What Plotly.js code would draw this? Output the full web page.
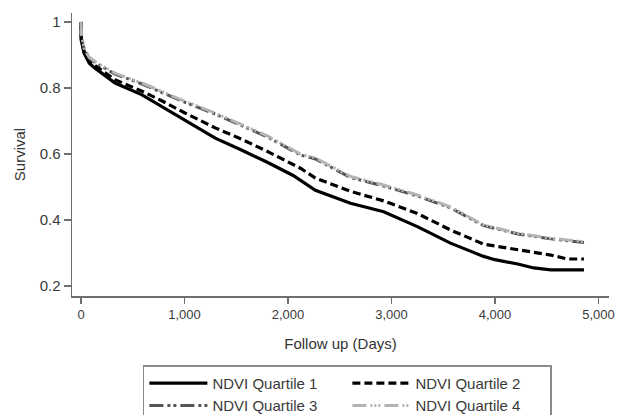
<!DOCTYPE html>
<html>
<head>
<meta charset="utf-8">
<script src="https://cdn.plot.ly/plotly-3.0.1.min.js"></script>
<style>html,body{margin:0;padding:0;background:#fff;}#chart{width:619px;height:415px;}</style>
</head>
<body>
<div id="chart"></div>
<script>
// Follow-up days and survival estimates
const q1Days = [0, 2, 30, 80, 136, 329, 590, 775, 1000, 1297, 1550, 1800, 2050, 2265, 2604, 2925, 3250, 3570, 3890, 4000, 4220, 4375, 4540, 4860];
const q1Surv = [1.0, 0.945, 0.905, 0.875, 0.86, 0.815, 0.779, 0.745, 0.705, 0.648, 0.612, 0.575, 0.535, 0.49, 0.451, 0.425, 0.38, 0.33, 0.29, 0.28, 0.267, 0.255, 0.249, 0.249];

const q2Days = [0, 2, 30, 80, 136, 329, 590, 775, 1000, 1297, 1550, 1800, 2120, 2265, 2604, 2925, 3250, 3570, 3890, 4220, 4540, 4700, 4860];
const q2Surv = [1.0, 0.95, 0.91, 0.882, 0.868, 0.825, 0.79, 0.762, 0.725, 0.679, 0.645, 0.608, 0.557, 0.527, 0.487, 0.458, 0.42, 0.37, 0.327, 0.309, 0.294, 0.282, 0.282];

const q3Days = [0, 5, 30, 80, 136, 329, 590, 775, 1000, 1297, 1550, 1800, 2120, 2265, 2604, 2925, 3250, 3570, 3890, 4220, 4540, 4860];
const q3Surv = [1.0, 0.958, 0.918, 0.89, 0.877, 0.842, 0.812, 0.787, 0.757, 0.721, 0.687, 0.652, 0.597, 0.585, 0.529, 0.503, 0.473, 0.437, 0.383, 0.358, 0.343, 0.332];

const q4Days = [0, 5, 30, 80, 136, 329, 590, 775, 1000, 1297, 1550, 1800, 2120, 2265, 2604, 2925, 3250, 3570, 3890, 4220, 4540, 4860];
const q4Surv = [1.0, 0.96, 0.92, 0.893, 0.88, 0.845, 0.815, 0.79, 0.76, 0.724, 0.69, 0.655, 0.60, 0.588, 0.532, 0.506, 0.476, 0.44, 0.385, 0.36, 0.345, 0.334];

const seriesNames = ['NDVI Quartile 1', 'NDVI Quartile 2', 'NDVI Quartile 3', 'NDVI Quartile 4'];
const xTickVals = [0, 1000, 2000, 3000, 4000, 5000];
const yTickVals = [0.2, 0.4, 0.6, 0.8, 1];
const yTickText = ['0.2', '0.4', '0.6', '0.8', '1'];

const traces = [
  {x: q1Days, y: q1Surv, name: seriesNames[0], mode: 'lines',
   line: {color: '#000000', width: 3.2, dash: 'solid'}},
  {x: q2Days, y: q2Surv, name: seriesNames[1], mode: 'lines',
   line: {color: '#000000', width: 3.2, dash: '8px,4px'}},
  {x: q3Days, y: q3Surv, name: seriesNames[2], mode: 'lines',
   line: {color: '#555555', width: 3, dash: '14px,4px,3px,3px,3px,4px'}},
  {x: q4Days, y: q4Surv, name: seriesNames[3], mode: 'lines',
   line: {color: '#b4b4b4', width: 3, dash: '14px,4px,2px,2px,2px,2px,2px,4px'}}
];

const layout = {
  width: 619, height: 415,
  margin: {l: 72, r: 10, t: 13, b: 119, pad: 0, autoexpand: false},
  paper_bgcolor: '#ffffff', plot_bgcolor: '#ffffff',
  font: {family: 'Liberation Sans, Arial, sans-serif', color: '#3a3a3a', size: 15},
  showlegend: true,
  xaxis: {
    range: [-87, 5102], tickvals: xTickVals, tickformat: ',d',
    showgrid: false, zeroline: false, showline: true, linecolor: '#6e6e6e', linewidth: 1.5,
    ticks: 'outside', ticklen: 6, tickcolor: '#6e6e6e', tickwidth: 1.2,
    tickfont: {size: 13, color: '#3a3a3a'},
    title: {text: 'Follow up (Days)', font: {size: 15, color: '#333333'}, standoff: 17}
  },
  yaxis: {
    range: [0.17, 1.027], tickvals: yTickVals, ticktext: yTickText,
    showgrid: false, zeroline: false, showline: true, linecolor: '#6e6e6e', linewidth: 1.5,
    ticks: 'outside', ticklen: 7, tickcolor: '#6e6e6e', tickwidth: 1.2,
    tickfont: {size: 15, color: '#3a3a3a'},
    title: {text: 'Survival', font: {size: 15, color: '#333333'}, standoff: 10}
  },
  legend: {
    orientation: 'h', x: 0.132, xanchor: 'left', y: -0.245, yanchor: 'top',
    bordercolor: '#8a8a8a', borderwidth: 1.5, bgcolor: '#ffffff',
    entrywidth: 130, entrywidthmode: 'pixels', itemwidth: 58,
    font: {size: 15, color: '#3a3a3a'}, traceorder: 'normal', tracegroupgap: 0
  }
};

Plotly.newPlot('chart', traces, layout, {displayModeBar: false, staticPlot: true});
</script>
</body>
</html>
